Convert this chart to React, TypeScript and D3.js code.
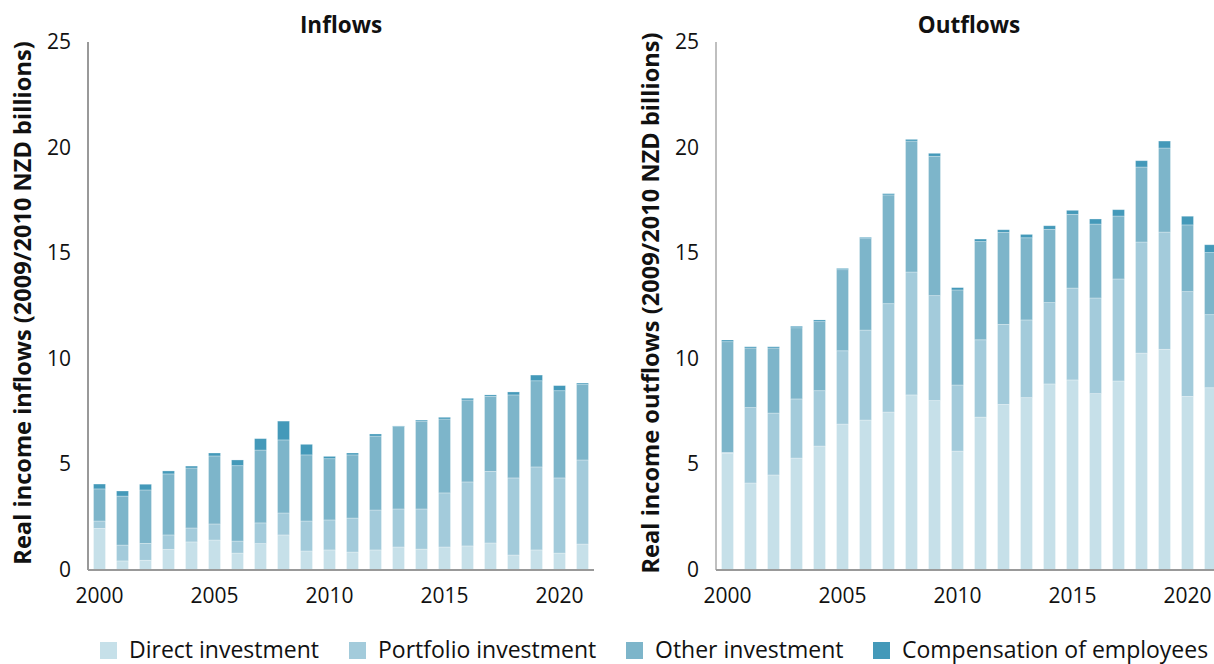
import React from "react";
import * as d3 from "d3";

const years = [2000, 2001, 2002, 2003, 2004, 2005, 2006, 2007, 2008, 2009, 2010, 2011, 2012, 2013, 2014, 2015, 2016, 2017, 2018, 2019, 2020, 2021];
const yTicks = [0, 5, 10, 15, 20, 25];
const xTickYears = [2000, 2005, 2010, 2015, 2020];
const seriesNames = ["Direct investment", "Portfolio investment", "Other investment", "Compensation of employees"];
const seriesKeys = ["direct", "portfolio", "other", "comp"];
const seriesColors = ["#c6e0e9", "#a3cbdb", "#7db5ca", "#4499b9"];

const inflowsDirect = [1.97, 0.43, 0.46, 0.98, 1.33, 1.42, 0.80, 1.25, 1.66, 0.90, 0.95, 0.85, 0.95, 1.09, 0.99, 1.09, 1.14, 1.28, 0.71, 0.95, 0.80, 1.23];
const inflowsPortfolio = [0.35, 0.75, 0.80, 0.68, 0.66, 0.76, 0.57, 0.98, 1.04, 1.42, 1.42, 1.61, 1.89, 1.80, 1.90, 2.56, 3.03, 3.39, 3.65, 3.93, 3.56, 3.98];
const inflowsOther = [1.52, 2.32, 2.53, 2.89, 2.84, 3.22, 3.57, 3.45, 3.46, 3.13, 2.90, 2.99, 3.50, 3.90, 4.16, 3.50, 3.88, 3.55, 3.93, 4.08, 4.13, 3.57];
const inflowsComp = [0.23, 0.24, 0.27, 0.14, 0.09, 0.14, 0.27, 0.54, 0.89, 0.50, 0.11, 0.09, 0.10, 0.03, 0.05, 0.08, 0.08, 0.07, 0.14, 0.27, 0.24, 0.07];

const outflowsDirect = [5.52, 4.12, 4.50, 5.30, 5.87, 6.91, 7.10, 7.48, 8.29, 8.02, 5.63, 7.24, 7.84, 8.16, 8.81, 9.00, 8.35, 8.95, 10.27, 10.45, 8.22, 8.63];
const outflowsPortfolio = [0.05, 3.57, 2.93, 2.80, 2.62, 3.47, 4.26, 5.13, 5.82, 4.97, 3.13, 3.66, 3.79, 3.68, 3.85, 4.35, 4.53, 4.83, 5.26, 5.55, 4.96, 3.46];
const outflowsOther = [5.24, 2.82, 3.08, 3.37, 3.27, 3.84, 4.33, 5.15, 6.20, 6.60, 4.50, 4.65, 4.36, 3.89, 3.47, 3.49, 3.50, 2.98, 3.55, 3.98, 3.16, 2.94];
const outflowsComp = [0.08, 0.06, 0.06, 0.07, 0.08, 0.06, 0.06, 0.06, 0.08, 0.14, 0.11, 0.12, 0.12, 0.16, 0.17, 0.19, 0.24, 0.30, 0.30, 0.33, 0.41, 0.37];

const FONT = "'Open Sans', Lato, sans-serif";

type PanelProps = {
  title: string;
  yLabel: string;
  x0: number;
  x1: number;
  axisColor: string;
  direct: number[];
  portfolio: number[];
  other: number[];
  comp: number[];
};

const TOP = 42;
const BOTTOM = 570;

function Panel(p: PanelProps) {
  const rows = years.map((yr, i) => ({
    year: yr,
    direct: p.direct[i],
    portfolio: p.portfolio[i],
    other: p.other[i],
    comp: p.comp[i],
  }));
  const x = d3.scaleBand<number>().domain(years).range([p.x0, p.x1]).paddingInner(0.48).paddingOuter(0.24);
  const y = d3.scaleLinear().domain([0, 25]).range([BOTTOM, TOP]);
  const stack = d3.stack<any>().keys(seriesKeys);
  const layers = stack(rows);
  const midY = 303;
  return (
    <g>
      <text x={(p.x0 + p.x1) / 2} y={33} textAnchor="middle" fontFamily={FONT} fontWeight={700} fontSize={22.5} fill="#111">
        {p.title}
      </text>
      {layers.map((layer, li) => (
        <g key={li} fill={seriesColors[li]}>
          {layer.map((d, i) => (
            <rect
              key={i}
              x={x(years[i])}
              y={y(d[1])}
              width={x.bandwidth()}
              height={Math.max(0, y(d[0]) - y(d[1]))}
              stroke="#ffffff"
              strokeOpacity={0.35}
              strokeWidth={0.8}
            />
          ))}
        </g>
      ))}
      <line x1={p.x0} x2={p.x0} y1={TOP} y2={BOTTOM} stroke={p.axisColor} strokeWidth={1.5} />
      <line x1={p.x0} x2={p.x1} y1={BOTTOM} y2={BOTTOM} stroke="#999" strokeWidth={2} />
      {yTicks.map((t) => (
        <text key={t} x={p.x0 - 17} y={y(t) + 7} textAnchor="end" fontFamily={FONT} fontSize={21} fill="#111">
          {t}
        </text>
      ))}
      {xTickYears.map((t) => (
        <text key={t} x={(x(t) as number) + x.bandwidth() / 2} y={603} textAnchor="middle" fontFamily={FONT} fontSize={21} fill="#111">
          {t}
        </text>
      ))}
      <text
        transform={`translate(${p.x0 - 57},${midY}) rotate(-90)`}
        textAnchor="middle"
        fontFamily={FONT}
        fontWeight={700}
        fontSize={23.6}
        fill="#111"
      >
        {p.yLabel}
      </text>
    </g>
  );
}

const legendX = [100, 349, 626, 873];

export default function App() {
  return (
    <svg width={1214} height={664} style={{ position: "absolute", left: 0, top: 0, background: "#fff" }}>
      <Panel
        title="Inflows"
        yLabel="Real income inflows (2009/2010 NZD billions)"
        x0={88}
        x1={594}
        axisColor="#777"
        direct={inflowsDirect}
        portfolio={inflowsPortfolio}
        other={inflowsOther}
        comp={inflowsComp}
      />
      <Panel
        title="Outflows"
        yLabel="Real income outflows (2009/2010 NZD billions)"
        x0={716}
        x1={1222}
        axisColor="#aaa"
        direct={outflowsDirect}
        portfolio={outflowsPortfolio}
        other={outflowsOther}
        comp={outflowsComp}
      />
      {seriesNames.map((name, i) => (
        <g key={name}>
          <rect x={legendX[i]} y={642} width={17} height={17} fill={seriesColors[i]} />
          <text x={legendX[i] + 29} y={658} fontFamily={FONT} fontSize={23} fill="#111">
            {name}
          </text>
        </g>
      ))}
    </svg>
  );
}
